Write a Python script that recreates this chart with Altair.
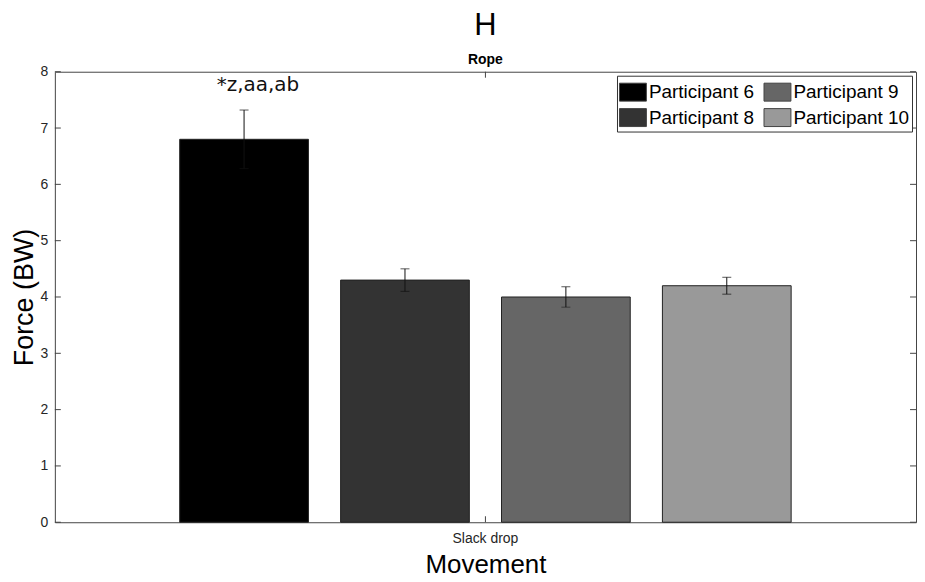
import altair as alt
import pandas as pd

participants = ["Participant 6", "Participant 8", "Participant 9", "Participant 10"]
force = [6.8, 4.3, 4.0, 4.2]
err = [0.52, 0.2, 0.18, 0.15]
colors = ["#000000", "#333333", "#666666", "#999999"]
movement = ["Slack drop"] * 4
annotations = ["*z,aa,ab", "", "", ""]
y_ticks = [0, 1, 2, 3, 4, 5, 6, 7, 8]

df = pd.DataFrame({
    "Movement": movement,
    "Participant": participants,
    "Force": force,
    "Err": err,
    "Note": annotations,
})
ticks_df = pd.DataFrame({"t": y_ticks})

W, H = 864, 452
FONT = "Liberation Sans"

x_enc = alt.X("Movement:N", title="Movement",
              scale=alt.Scale(paddingOuter=0.169, paddingInner=0),
              axis=alt.Axis(labelAngle=0, ticks=False, domain=False,
                            labelFontSize=14, labelColor="#262626",
                            labelPadding=9, titleFontSize=26,
                            titleFontWeight="normal", titleColor="#000",
                            titlePadding=6))
xo_enc = alt.XOffset("Participant:N", sort=participants,
                     scale=alt.Scale(paddingInner=0.2, paddingOuter=0.1))
y_scale = alt.Scale(domain=[0, 8], nice=False)
y_enc = alt.Y("Force:Q", scale=y_scale, title="Force (BW)",
              axis=alt.Axis(values=y_ticks, format="d", grid=False, ticks=False,
                            domain=False, labelFontSize=14, labelColor="#262626",
                            labelPadding=7, titleFontSize=27,
                            titleFontWeight="normal", titleColor="#000",
                            titlePadding=2))

base = alt.Chart(df)

bars = base.mark_bar(stroke="#222222", strokeWidth=1).encode(
    x=x_enc, xOffset=xo_enc, y=y_enc,
    color=alt.Color("Participant:N",
                    scale=alt.Scale(domain=participants, range=colors),
                    legend=alt.Legend(title=None, orient="top-right", columns=2,
                                      offset=4, symbolType="M-1,-0.667H1V0.667H-1Z",
                                      symbolSize=729, symbolStrokeColor="#444",
                                      symbolStrokeWidth=1, symbolOpacity=1,
                                      labelFontSize=19, labelColor="#000",
                                      labelFont=FONT, labelOffset=2,
                                      columnPadding=7, rowPadding=0,
                                      padding=2, fillColor="white",
                                      strokeColor="#333", labelLimit=250)),
)

err_base = base.transform_calculate(lo="datum.Force - datum.Err",
                                    hi="datum.Force + datum.Err")
rules = err_base.mark_rule(color="#111", strokeWidth=1).encode(
    x="Movement:N", xOffset=xo_enc,
    y=alt.Y("lo:Q", scale=y_scale), y2="hi:Q")
caps_hi = err_base.mark_tick(color="#111", size=9, thickness=1).encode(
    x="Movement:N", xOffset=xo_enc, y=alt.Y("hi:Q", scale=y_scale))
caps_lo = err_base.mark_tick(color="#111", size=9, thickness=1).encode(
    x="Movement:N", xOffset=xo_enc, y=alt.Y("lo:Q", scale=y_scale))

notes = err_base.mark_text(font="DejaVu Sans", fontSize=20, baseline="bottom",
                           dy=-15, dx=14, color="#111").encode(
    x="Movement:N", xOffset=xo_enc, y=alt.Y("hi:Q", scale=y_scale), text="Note:N")

tick_base = alt.Chart(ticks_df)
left_ticks = tick_base.mark_rule(color="#444").encode(
    y=alt.Y("t:Q", scale=y_scale), x=alt.value(0), x2=alt.value(6))
right_ticks = tick_base.mark_rule(color="#444").encode(
    y=alt.Y("t:Q", scale=y_scale), x=alt.value(W - 6), x2=alt.value(W))
xtick_df = pd.DataFrame({"Movement": ["Slack drop"]})
bot_tick = alt.Chart(xtick_df).mark_rule(color="#444").encode(
    x="Movement:N", y=alt.value(H - 6), y2=alt.value(H))
top_tick = alt.Chart(xtick_df).mark_rule(color="#444").encode(
    x="Movement:N", y=alt.value(0), y2=alt.value(6))

chart = alt.layer(bars, rules, caps_hi, caps_lo, notes, left_ticks, right_ticks,
                  bot_tick, top_tick).properties(
    width=W, height=H,
    title=alt.TitleParams(text="H", subtitle="Rope", anchor="middle",
                          fontSize=31, fontWeight="normal", font=FONT,
                          color="#000", subtitleFont=FONT, subtitleFontSize=14,
                          subtitleFontWeight="bold", subtitleColor="#000",
                          subtitlePadding=11, offset=-3),
    padding={"left": 2, "top": 1, "right": 0, "bottom": 0},
).configure_view(stroke="#444", strokeWidth=1).configure_axis(
    labelFont=FONT, titleFont=FONT)

chart.save("out.html", embed_options={"renderer": "svg", "actions": False})
